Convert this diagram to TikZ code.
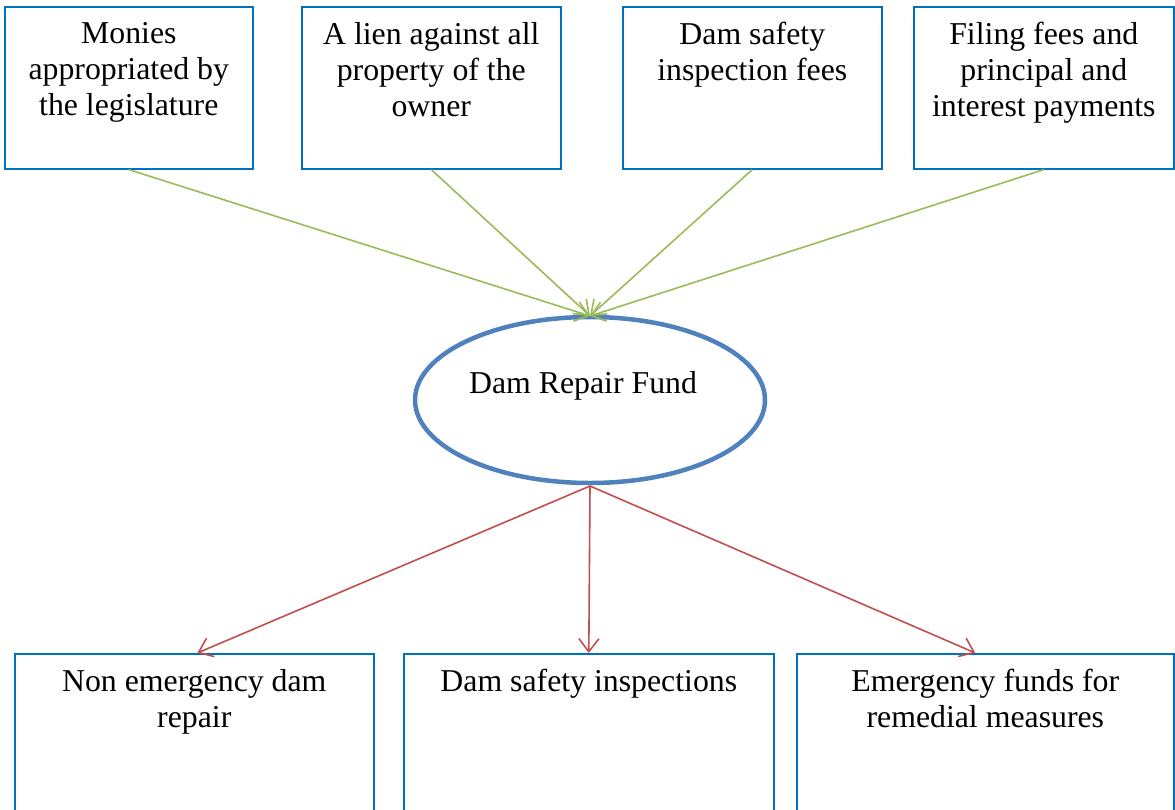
\documentclass[tikz,border=0pt]{standalone}
\usepackage{fontspec}
\setmainfont{Liberation Serif}
\usetikzlibrary{arrows.meta,shapes.geometric}
\definecolor{boxblue}{RGB}{0,112,192}
\definecolor{ellblue}{RGB}{79,129,189}
\definecolor{agreen}{RGB}{155,187,89}
\definecolor{ared}{RGB}{192,80,77}
\tikzset{
  fbox/.style={draw=boxblue,line width=1.6pt,rectangle,inner sep=0pt,anchor=north west},
  ftext/.style={anchor=north,align=center,inner sep=0pt,font=\fontsize{31.8}{36}\selectfont},
  garrow/.style={draw=agreen,line width=1.6pt,-{Straight Barb[length=13pt,width=20pt,line width=1.6pt]}},
  rarrow/.style={draw=ared,line width=1.6pt,-{Straight Barb[length=13pt,width=20pt,line width=1.6pt]}},
}
\begin{document}
\begin{tikzpicture}[x=1pt,y=-1pt]
\useasboundingbox[fill=white] (0,0) rectangle (1175,809);
\begin{scope}
\clip (0,0) rectangle (1175,809);
% top boxes
\node[fbox,minimum width=248pt,minimum height=162pt] (t1) at (4,6) {};
\node[fbox,minimum width=259pt,minimum height=162pt] (t2) at (301,6) {};
\node[fbox,minimum width=259pt,minimum height=162pt] (t3) at (622,6) {};
\node[fbox,minimum width=260pt,minimum height=162pt] (t4) at (913,6) {};
\node[ftext] (l1) at ([yshift=-16pt]t1.north) {Monies\\appropriated by\\the legislature};
\node[ftext] (l2) at ([yshift=-16pt]t2.north) {A lien against all\\property of the\\owner};
\node[ftext] (l3) at ([yshift=-16pt]t3.north) {Dam safety\\inspection fees};
\node[ftext] (l4) at ([yshift=-16pt]t4.north) {Filing fees and\\principal and\\interest payments};
% ellipse
\node[ellipse,draw=ellblue,line width=4.5pt,minimum width=350pt,minimum height=166pt,inner sep=0pt] (fund) at (590,400) {};
\node[font=\fontsize{31.8}{36}\selectfont,inner sep=0pt] (fundtext) at (583,386) {Dam Repair Fund};
% bottom boxes
\node[fbox,minimum width=359pt,minimum height=170pt] (b1) at (14,653) {};
\node[fbox,minimum width=370pt,minimum height=170pt] (b2) at (403,653) {};
\node[fbox,minimum width=377pt,minimum height=170pt] (b3) at (796,653) {};
\node[ftext] (m1) at ([yshift=-16pt]b1.north) {Non emergency dam\\repair};
\node[ftext] (m2) at ([yshift=-16pt]b2.north) {Dam safety inspections};
\node[ftext] (m3) at ([yshift=-16pt]b3.north) {Emergency funds for\\remedial measures};
\end{scope}
% arrows
\coordinate (top) at (590,316);
\coordinate (bot) at (590,486);
\draw[garrow] (t1.south) -- (top);
\draw[garrow] (t2.south) -- (top);
\draw[garrow] (t3.south) -- (top);
\draw[garrow] (t4.south) -- (top);
\draw[rarrow] (bot) -- ([xshift=3pt]b1.north);
\draw[rarrow] (bot) -- ([xshift=0pt]b2.north);
\draw[rarrow] (bot) -- ([xshift=-10pt]b3.north);
\end{tikzpicture}
\end{document}
